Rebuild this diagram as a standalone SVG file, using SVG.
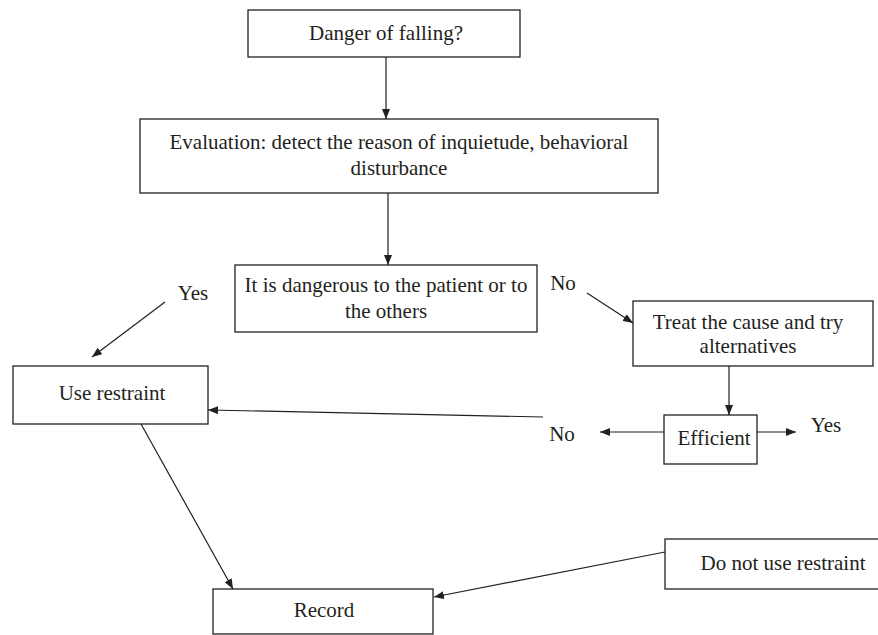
<svg xmlns="http://www.w3.org/2000/svg" width="878" height="635" viewBox="0 0 878 635">
<style>
.box{fill:#fff;stroke:#231f20;stroke-width:1.3}
.t{font-family:"Liberation Serif","Times New Roman",serif;font-size:21px;fill:#231f20;text-anchor:middle}
.c{stroke:#231f20;stroke-width:1.2;fill:none;marker-end:url(#ah)}
</style>
<defs>
<marker id="ah" viewBox="0 0 10 8" refX="10" refY="4" markerWidth="10" markerHeight="8" markerUnits="userSpaceOnUse" orient="auto">
<path d="M0,0 L10,4 L0,8 z" fill="#231f20"/>
</marker>
</defs>
<rect width="878" height="635" fill="#fff"/>
<g id="connectors">
<line class="c" x1="386" y1="57" x2="386" y2="119"/>
<line class="c" x1="388" y1="193" x2="388" y2="265"/>
<line class="c" x1="165" y1="302" x2="92" y2="357"/>
<line class="c" x1="587" y1="293" x2="633" y2="323"/>
<line class="c" x1="729" y1="366" x2="729" y2="415"/>
<line class="c" x1="664" y1="432" x2="600" y2="432"/>
<line class="c" x1="757" y1="432" x2="796" y2="432"/>
<line class="c" x1="543" y1="417" x2="208" y2="410"/>
<line class="c" x1="141" y1="424" x2="233" y2="589"/>
<line class="c" x1="665" y1="552" x2="434" y2="597"/>
</g>
<g id="n-danger">
<rect class="box" x="248" y="10" width="272" height="47"/>
<text class="t" x="386" y="40">Danger of falling?</text>
</g>
<g id="n-evaluation">
<rect class="box" x="140" y="119" width="518" height="74"/>
<text class="t" x="399" y="149">Evaluation: detect the reason of inquietude, behavioral</text>
<text class="t" x="399" y="175">disturbance</text>
</g>
<g id="n-dangerous">
<rect class="box" x="235" y="265" width="302" height="67"/>
<text class="t" x="386" y="292">It is dangerous to the patient or to</text>
<text class="t" x="386" y="318">the others</text>
</g>
<g id="l-yes1"><text class="t" x="193" y="300">Yes</text></g>
<g id="l-no1"><text class="t" x="563" y="290">No</text></g>
<g id="n-treat">
<rect class="box" x="633" y="301" width="240" height="65"/>
<text class="t" x="748" y="329">Treat the cause and try</text>
<text class="t" x="748" y="353">alternatives</text>
</g>
<g id="n-use">
<rect class="box" x="13" y="366" width="195" height="58"/>
<text class="t" x="112" y="400">Use restraint</text>
</g>
<g id="n-efficient">
<rect class="box" x="664" y="415" width="93" height="49"/>
<text class="t" x="714" y="445">Efficient</text>
</g>
<g id="l-no2"><text class="t" x="562" y="441">No</text></g>
<g id="l-yes2"><text class="t" x="826" y="432">Yes</text></g>
<g id="n-donot">
<rect class="box" x="665" y="539" width="220" height="50"/>
<text class="t" x="783" y="570">Do not use restraint</text>
</g>
<g id="n-record">
<rect class="box" x="213" y="589" width="220" height="45"/>
<text class="t" x="324" y="617">Record</text>
</g>
</svg>
